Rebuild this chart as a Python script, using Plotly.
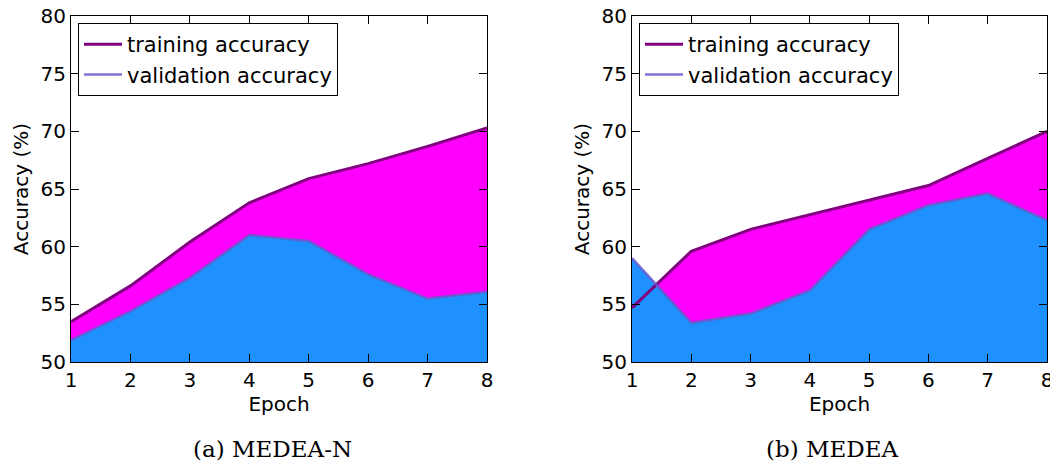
import plotly.graph_objects as go

epochs = [1, 2, 3, 4, 5, 6, 7, 8]
train_a = [53.5, 56.6, 60.4, 63.8, 65.9, 67.2, 68.7, 70.3]
val_a = [51.9, 54.4, 57.3, 61.0, 60.5, 57.6, 55.5, 56.1]
train_b = [54.7, 59.6, 61.5, 62.75, 64.0, 65.3, 67.65, 70.0]
val_b = [59.0, 53.4, 54.2, 56.2, 61.5, 63.6, 64.6, 62.3]
captions = ["(a) MEDEA-N", "(b) MEDEA"]
series_names = ["training accuracy", "validation accuracy"]
y_ticks = [50, 55, 60, 65, 70, 75, 80]

TRAIN_FILL = "#FF00FF"
VAL_FILL = "#1E90FF"
TRAIN_LINE = "#800080"
VAL_LINE = "#6A5ACD"

fig = go.Figure()

panels = [(train_a, val_a, "x", "y", "legend"), (train_b, val_b, "x2", "y2", "legend2")]
for tr, va, xa, ya, lg in panels:
    fig.add_trace(go.Scatter(x=epochs, y=tr, mode="lines", fill="tozeroy",
                             fillcolor=TRAIN_FILL, line=dict(width=0, color=TRAIN_FILL),
                             showlegend=False, xaxis=xa, yaxis=ya, hoverinfo="skip"))
    fig.add_trace(go.Scatter(x=epochs, y=va, mode="lines", fill="tozeroy",
                             fillcolor=VAL_FILL, line=dict(width=0, color=VAL_FILL),
                             showlegend=False, xaxis=xa, yaxis=ya, hoverinfo="skip"))
    fig.add_trace(go.Scatter(x=epochs, y=tr, mode="lines", name=series_names[0],
                             line=dict(width=3, color=TRAIN_LINE),
                             xaxis=xa, yaxis=ya, legend=lg))
    fig.add_trace(go.Scatter(x=epochs, y=va, mode="lines", name=series_names[1],
                             line=dict(width=2.5, color=VAL_LINE), opacity=0.85,
                             xaxis=xa, yaxis=ya, legend=lg))

W, H = 1050, 465
ml, mr, mt, mb = 71, 3, 16, 103
pw = W - ml - mr
ph = H - mt - mb

def px_to_x(p):
    return (p - ml) / pw

def px_to_y(p):
    return 1 - (p - mt) / ph

axis_common = dict(showline=True, linecolor="black", linewidth=1, mirror="allticks",
                   ticks="inside", ticklen=8, tickwidth=1, tickcolor="black",
                   showgrid=False, zeroline=False, automargin=False,
                   ticklabeloverflow="allow",
                   tickfont=dict(family="DejaVu Sans", size=20, color="black"))
title_font = dict(family="DejaVu Sans", size=20, color="black")

legend_common = dict(xanchor="left", yanchor="top",
                     bordercolor="black", borderwidth=1, bgcolor="white",
                     font=dict(family="DejaVu Sans", size=21, color="black"),
                     itemwidth=38, tracegroupgap=0)

fig.update_layout(
    width=W, height=H,
    margin=dict(l=ml, r=mr, t=mt, b=mb, autoexpand=False),
    plot_bgcolor="white", paper_bgcolor="white",
    xaxis=dict(domain=[0, px_to_x(487)], range=[1, 8], dtick=1, anchor="y",
               title=dict(text="Epoch", font=title_font, standoff=4), **axis_common),
    yaxis=dict(domain=[0, 1], range=[50, 80], tickvals=y_ticks, anchor="x",
               title=dict(text="Accuracy (%)", font=title_font, standoff=6), **axis_common),
    xaxis2=dict(domain=[px_to_x(632), 1], range=[1, 8], dtick=1, anchor="y2",
                title=dict(text="Epoch", font=title_font, standoff=4), **axis_common),
    yaxis2=dict(domain=[0, 1], range=[50, 80], tickvals=y_ticks, anchor="x2",
                title=dict(text="Accuracy (%)", font=title_font, standoff=6), **axis_common),
    legend=dict(x=px_to_x(78), y=px_to_y(23), **legend_common),
    legend2=dict(x=px_to_x(639), y=px_to_y(23), **legend_common),
    showlegend=True,
)

for cap, cx in zip(captions, [272, 832]):
    fig.add_annotation(text=cap, x=px_to_x(cx), y=px_to_y(449),
                       xref="paper", yref="paper", showarrow=False,
                       xanchor="center", yanchor="middle",
                       font=dict(family="DejaVu Serif", size=23, color="black"))

fig.write_html("out.html", config={"displayModeBar": False},
               post_script="document.body.style.margin='0';document.body.style.overflow='hidden';")
